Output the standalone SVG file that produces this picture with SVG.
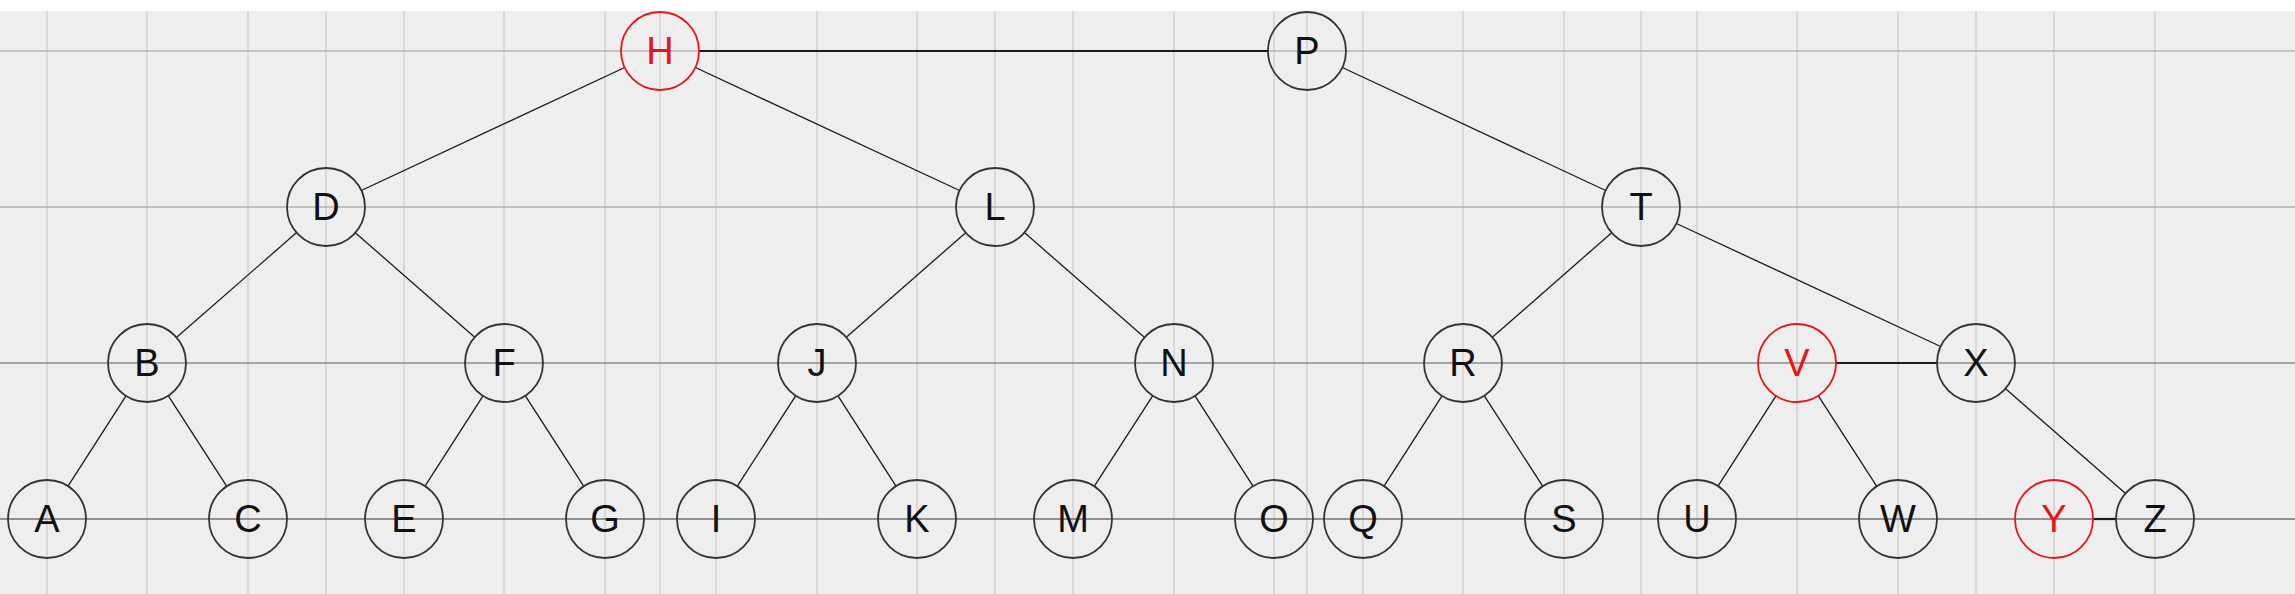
<svg xmlns="http://www.w3.org/2000/svg" width="2295" height="594" viewBox="0 0 2295 594">
<style>
.vg{stroke:#d2d2d2;stroke-width:1.5}
.hg{stroke-width:1.5}
.e{stroke:#1a1a1a;stroke-width:1.3;fill:none}
.red{stroke:#1a1a1a;stroke-width:2.2;fill:none}
.n circle{fill:none;stroke:#333;stroke-width:1.8}
.n text{font-family:"Liberation Sans",Arial,sans-serif;font-size:38px;fill:#111;text-anchor:middle}
.r circle{stroke:#e8141c}
.r text{fill:#e8141c}
</style>
<rect x="0" y="0" width="2295" height="594" fill="#eeeeee"/>
<rect x="0" y="0" width="2295" height="11" fill="#ffffff"/>
<g id="grid">
<g class="vg">
<line x1="47" y1="11" x2="47" y2="594"/><line x1="147" y1="11" x2="147" y2="594"/><line x1="248" y1="11" x2="248" y2="594"/><line x1="326" y1="11" x2="326" y2="594"/><line x1="404" y1="11" x2="404" y2="594"/><line x1="504" y1="11" x2="504" y2="594"/><line x1="605" y1="11" x2="605" y2="594"/><line x1="660" y1="11" x2="660" y2="594"/><line x1="716" y1="11" x2="716" y2="594"/><line x1="817" y1="11" x2="817" y2="594"/><line x1="917" y1="11" x2="917" y2="594"/><line x1="995" y1="11" x2="995" y2="594"/><line x1="1073" y1="11" x2="1073" y2="594"/><line x1="1174" y1="11" x2="1174" y2="594"/><line x1="1274" y1="11" x2="1274" y2="594"/><line x1="1307" y1="11" x2="1307" y2="594"/><line x1="1363" y1="11" x2="1363" y2="594"/><line x1="1463" y1="11" x2="1463" y2="594"/><line x1="1564" y1="11" x2="1564" y2="594"/><line x1="1641" y1="11" x2="1641" y2="594"/><line x1="1697" y1="11" x2="1697" y2="594"/><line x1="1797" y1="11" x2="1797" y2="594"/><line x1="1898" y1="11" x2="1898" y2="594"/><line x1="1976" y1="11" x2="1976" y2="594"/><line x1="2054" y1="11" x2="2054" y2="594"/><line x1="2155" y1="11" x2="2155" y2="594"/>
</g>
<line class="hg" x1="0" y1="51" x2="2295" y2="51" stroke="#b4b4b4"/>
<line class="hg" x1="0" y1="207" x2="2295" y2="207" stroke="#b0b0b0"/>
<line class="hg" x1="0" y1="363" x2="2295" y2="363" stroke="#8c8c8c"/>
<line class="hg" x1="0" y1="519" x2="2295" y2="519" stroke="#707070"/>
</g>
<g id="connectors">
<line class="red" x1="699" y1="51" x2="1268" y2="51"/>
<line class="red" x1="1836" y1="363" x2="1937" y2="363"/>
<line class="red" x1="2093" y1="519" x2="2116" y2="519"/>
<line class="e" x1="624.7" y1="67.5" x2="361.3" y2="190.5"/>
<line class="e" x1="695.4" y1="67.5" x2="959.6" y2="190.5"/>
<line class="e" x1="1342.3" y1="67.5" x2="1605.7" y2="190.5"/>
<line class="e" x1="296.6" y1="232.6" x2="176.4" y2="337.4"/>
<line class="e" x1="355.3" y1="232.7" x2="474.7" y2="337.3"/>
<line class="e" x1="965.7" y1="232.7" x2="846.3" y2="337.3"/>
<line class="e" x1="1024.4" y1="232.6" x2="1144.6" y2="337.4"/>
<line class="e" x1="1611.7" y1="232.7" x2="1492.3" y2="337.3"/>
<line class="e" x1="1676.4" y1="223.5" x2="1940.6" y2="346.5"/>
<line class="e" x1="126" y1="395.8" x2="68" y2="486.2"/>
<line class="e" x1="168.2" y1="395.7" x2="226.8" y2="486.3"/>
<line class="e" x1="483" y1="395.8" x2="425" y2="486.2"/>
<line class="e" x1="525.2" y1="395.7" x2="583.8" y2="486.3"/>
<line class="e" x1="795.8" y1="395.7" x2="737.2" y2="486.3"/>
<line class="e" x1="838" y1="395.8" x2="896" y2="486.2"/>
<line class="e" x1="1152.8" y1="395.7" x2="1094.2" y2="486.3"/>
<line class="e" x1="1195" y1="395.8" x2="1253" y2="486.2"/>
<line class="e" x1="1442" y1="395.8" x2="1384" y2="486.2"/>
<line class="e" x1="1484.2" y1="395.7" x2="1542.8" y2="486.3"/>
<line class="e" x1="1776" y1="395.8" x2="1718" y2="486.2"/>
<line class="e" x1="1818.2" y1="395.7" x2="1876.8" y2="486.3"/>
<line class="e" x1="2005.4" y1="388.6" x2="2125.6" y2="493.4"/>
</g>
<g id="H" class="n r"><circle cx="660" cy="51" r="39"/><text x="660" y="64">H</text></g>
<g id="P" class="n"><circle cx="1307" cy="51" r="39"/><text x="1307" y="64">P</text></g>
<g id="D" class="n"><circle cx="326" cy="207" r="39"/><text x="326" y="220">D</text></g>
<g id="L" class="n"><circle cx="995" cy="207" r="39"/><text x="995" y="220">L</text></g>
<g id="T" class="n"><circle cx="1641" cy="207" r="39"/><text x="1641" y="220">T</text></g>
<g id="B" class="n"><circle cx="147" cy="363" r="39"/><text x="147" y="376">B</text></g>
<g id="F" class="n"><circle cx="504" cy="363" r="39"/><text x="504" y="376">F</text></g>
<g id="J" class="n"><circle cx="817" cy="363" r="39"/><text x="817" y="376">J</text></g>
<g id="N" class="n"><circle cx="1174" cy="363" r="39"/><text x="1174" y="376">N</text></g>
<g id="R" class="n"><circle cx="1463" cy="363" r="39"/><text x="1463" y="376">R</text></g>
<g id="V" class="n r"><circle cx="1797" cy="363" r="39"/><text x="1797" y="376">V</text></g>
<g id="X" class="n"><circle cx="1976" cy="363" r="39"/><text x="1976" y="376">X</text></g>
<g id="A" class="n"><circle cx="47" cy="519" r="39"/><text x="47" y="532">A</text></g>
<g id="C" class="n"><circle cx="248" cy="519" r="39"/><text x="248" y="532">C</text></g>
<g id="E" class="n"><circle cx="404" cy="519" r="39"/><text x="404" y="532">E</text></g>
<g id="G" class="n"><circle cx="605" cy="519" r="39"/><text x="605" y="532">G</text></g>
<g id="I" class="n"><circle cx="716" cy="519" r="39"/><text x="716" y="532">I</text></g>
<g id="K" class="n"><circle cx="917" cy="519" r="39"/><text x="917" y="532">K</text></g>
<g id="M" class="n"><circle cx="1073" cy="519" r="39"/><text x="1073" y="532">M</text></g>
<g id="O" class="n"><circle cx="1274" cy="519" r="39"/><text x="1274" y="532">O</text></g>
<g id="Q" class="n"><circle cx="1363" cy="519" r="39"/><text x="1363" y="532">Q</text></g>
<g id="S" class="n"><circle cx="1564" cy="519" r="39"/><text x="1564" y="532">S</text></g>
<g id="U" class="n"><circle cx="1697" cy="519" r="39"/><text x="1697" y="532">U</text></g>
<g id="W" class="n"><circle cx="1898" cy="519" r="39"/><text x="1898" y="532">W</text></g>
<g id="Y" class="n r"><circle cx="2054" cy="519" r="39"/><text x="2054" y="532">Y</text></g>
<g id="Z" class="n"><circle cx="2155" cy="519" r="39"/><text x="2155" y="532">Z</text></g>
</svg>
